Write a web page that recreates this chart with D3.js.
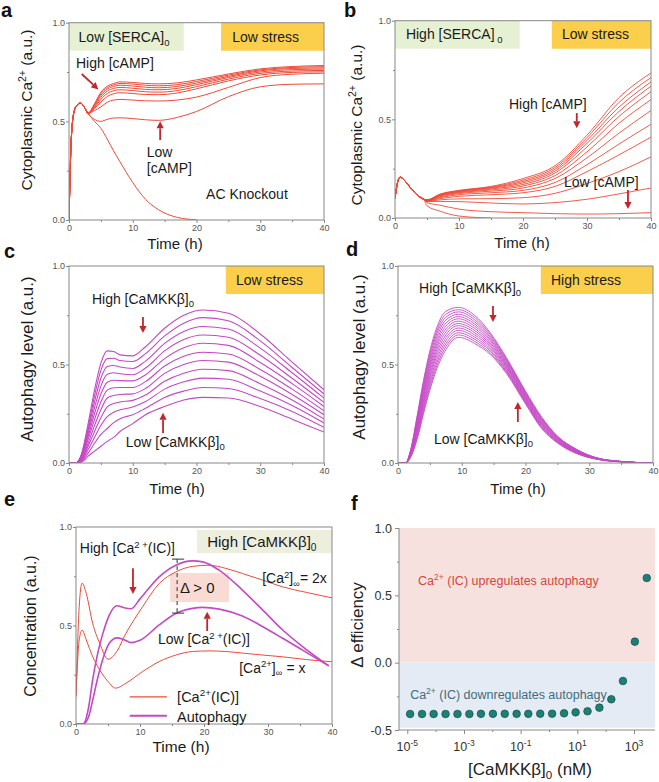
<!DOCTYPE html>
<html>
<head>
<meta charset="utf-8">
<script src="https://cdn.jsdelivr.net/npm/d3@7"></script>
<style>
  body { margin: 0; background: #fff; }
  svg { font-family: "Liberation Sans", Arial, Helvetica, sans-serif; }
</style>
</head>
<body>
<div id="chart"></div>
<script>
// ---------- data ----------

// panel a: low SERCA, cAMP family (high -> low) + AC knockout
const aTime = [0, 0.15, 0.3, 0.5, 0.8, 1.2, 1.8, 2.4, 3, 4, 5, 6, 7, 8, 10, 12, 14, 17, 20, 25, 30, 35, 40];
const aRise = [0, 0.2, 0.37, 0.48, 0.55, 0.58, 0.593, 0.572];
const aCurves = [
  [0.542, 0.59, 0.648, 0.678, 0.692, 0.70, 0.697, 0.692, 0.69, 0.695, 0.71, 0.74, 0.766, 0.778, 0.783],
  [0.542, 0.585, 0.64, 0.671, 0.685, 0.692, 0.689, 0.683, 0.68, 0.686, 0.702, 0.734, 0.761, 0.773, 0.777],
  [0.541, 0.58, 0.632, 0.663, 0.677, 0.683, 0.679, 0.673, 0.67, 0.677, 0.694, 0.728, 0.756, 0.768, 0.771],
  [0.541, 0.575, 0.622, 0.653, 0.667, 0.672, 0.668, 0.662, 0.66, 0.667, 0.686, 0.722, 0.75, 0.762, 0.765],
  [0.54, 0.57, 0.611, 0.641, 0.655, 0.66, 0.656, 0.65, 0.648, 0.656, 0.676, 0.714, 0.743, 0.755, 0.758],
  [0.54, 0.565, 0.598, 0.626, 0.64, 0.645, 0.641, 0.636, 0.635, 0.644, 0.665, 0.705, 0.735, 0.748, 0.751],
  [0.54, 0.555, 0.573, 0.597, 0.608, 0.611, 0.608, 0.604, 0.603, 0.608, 0.623, 0.672, 0.722, 0.739, 0.744],
  [0.538, 0.51, 0.5, 0.51, 0.517, 0.518, 0.514, 0.508, 0.505, 0.52, 0.55, 0.625, 0.675, 0.688, 0.69]
];
const aKnockout = [0.542, 0.5, 0.465, 0.41, 0.35, 0.295, 0.19, 0.105, 0.053, 0.013, 0.001];

// panel b: high SERCA, cAMP family (high -> low)
const bTime = [0, 0.4, 0.8, 1.5, 2.5, 3.5, 4.5, 5, 7, 10, 15, 20, 25, 30, 35, 40];
const bRise = [0.1, 0.18, 0.207, 0.19, 0.15, 0.115, 0.095];
const bCurves = [
  [0.092, 0.121, 0.14, 0.16, 0.2, 0.265, 0.42, 0.61, 0.735],
  [0.092, 0.119, 0.138, 0.157, 0.192, 0.256, 0.407, 0.586, 0.712],
  [0.091, 0.117, 0.136, 0.154, 0.185, 0.247, 0.393, 0.562, 0.69],
  [0.09, 0.115, 0.134, 0.151, 0.178, 0.238, 0.378, 0.54, 0.668],
  [0.09, 0.113, 0.131, 0.147, 0.17, 0.228, 0.36, 0.515, 0.64],
  [0.089, 0.11, 0.128, 0.142, 0.162, 0.215, 0.335, 0.48, 0.60],
  [0.088, 0.107, 0.124, 0.136, 0.152, 0.2, 0.305, 0.43, 0.545],
  [0.087, 0.103, 0.118, 0.128, 0.14, 0.18, 0.27, 0.375, 0.475],
  [0.086, 0.098, 0.11, 0.118, 0.128, 0.16, 0.235, 0.32, 0.41],
  [0.085, 0.092, 0.097, 0.098, 0.103, 0.125, 0.175, 0.235, 0.31],
  [0.083, 0.084, 0.083, 0.076, 0.071, 0.078, 0.095, 0.122, 0.152],
  [0.078, 0.065, 0.045, 0.032, 0.027, 0.022, 0.02, 0.022, 0.027],
  [0.062, 0.035, 0.01, 0.0]
];

// panel c: low stress, CaMKKb family (high -> low)
const cTime = [0, 1, 2, 3, 4, 5, 6, 7, 8, 10, 12, 15, 18, 21, 25, 30, 35, 40];
const cCurves = [
  [0, 0, 0.05, 0.2, 0.37, 0.507, 0.569, 0.566, 0.549, 0.544, 0.59, 0.684, 0.75, 0.777, 0.76, 0.655, 0.512, 0.372],
  [0, 0, 0.045, 0.18, 0.34, 0.47, 0.53, 0.532, 0.52, 0.515, 0.555, 0.645, 0.71, 0.738, 0.722, 0.62, 0.485, 0.35],
  [0, 0, 0.04, 0.165, 0.31, 0.43, 0.49, 0.495, 0.487, 0.48, 0.517, 0.607, 0.668, 0.693, 0.68, 0.583, 0.458, 0.329],
  [0, 0, 0.035, 0.15, 0.28, 0.39, 0.45, 0.458, 0.453, 0.448, 0.482, 0.569, 0.627, 0.65, 0.638, 0.547, 0.43, 0.307],
  [0, 0, 0.03, 0.135, 0.25, 0.35, 0.41, 0.42, 0.418, 0.417, 0.448, 0.53, 0.585, 0.608, 0.597, 0.51, 0.403, 0.287],
  [0, 0, 0.025, 0.12, 0.22, 0.31, 0.37, 0.382, 0.383, 0.383, 0.413, 0.492, 0.542, 0.562, 0.553, 0.475, 0.375, 0.265],
  [0, 0, 0.02, 0.1, 0.19, 0.27, 0.33, 0.343, 0.348, 0.351, 0.378, 0.455, 0.5, 0.52, 0.512, 0.44, 0.348, 0.245],
  [0, 0, 0.017, 0.085, 0.16, 0.23, 0.285, 0.302, 0.31, 0.318, 0.345, 0.415, 0.456, 0.476, 0.469, 0.402, 0.32, 0.223],
  [0, 0, 0.013, 0.068, 0.13, 0.19, 0.235, 0.258, 0.27, 0.284, 0.312, 0.375, 0.412, 0.431, 0.425, 0.365, 0.292, 0.203],
  [0, 0, 0.009, 0.05, 0.1, 0.145, 0.175, 0.205, 0.225, 0.245, 0.278, 0.333, 0.365, 0.383, 0.378, 0.327, 0.262, 0.181],
  [0, 0, 0.005, 0.035, 0.06, 0.085, 0.11, 0.13, 0.16, 0.2, 0.245, 0.287, 0.32, 0.333, 0.33, 0.287, 0.222, 0.157]
];

// panel d: high stress, one row per time, 14 CaMKKb levels (high -> low)
const dTime = [0, 1.2, 2, 3, 4, 5, 6, 7.5, 9.5, 12, 14.5, 17, 20, 22.5, 25, 28, 31, 35, 40];
const dRows = [
  [0, 0, 0, 0, 0, 0, 0, 0, 0, 0, 0, 0, 0, 0],
  [0, 0, 0, 0, 0, 0, 0, 0, 0, 0, 0, 0, 0, 0],
  [0.07, 0.067, 0.064, 0.061, 0.058, 0.055, 0.052, 0.048, 0.045, 0.042, 0.039, 0.036, 0.033, 0.03],
  [0.24, 0.231, 0.222, 0.212, 0.203, 0.194, 0.185, 0.175, 0.166, 0.157, 0.148, 0.138, 0.129, 0.12],
  [0.42, 0.407, 0.394, 0.381, 0.368, 0.355, 0.342, 0.328, 0.315, 0.302, 0.289, 0.276, 0.263, 0.25],
  [0.57, 0.555, 0.539, 0.524, 0.508, 0.493, 0.478, 0.462, 0.447, 0.432, 0.416, 0.401, 0.385, 0.37],
  [0.68, 0.664, 0.648, 0.632, 0.615, 0.599, 0.583, 0.567, 0.551, 0.535, 0.518, 0.502, 0.486, 0.47],
  [0.77, 0.755, 0.74, 0.725, 0.71, 0.695, 0.68, 0.665, 0.65, 0.635, 0.62, 0.605, 0.59, 0.575],
  [0.79, 0.778, 0.767, 0.755, 0.743, 0.732, 0.72, 0.708, 0.697, 0.685, 0.673, 0.661, 0.65, 0.638],
  [0.75, 0.739, 0.728, 0.717, 0.706, 0.695, 0.684, 0.673, 0.662, 0.651, 0.64, 0.629, 0.618, 0.607],
  [0.66, 0.652, 0.643, 0.635, 0.626, 0.618, 0.609, 0.601, 0.592, 0.584, 0.575, 0.567, 0.558, 0.55],
  [0.535, 0.529, 0.523, 0.517, 0.51, 0.504, 0.498, 0.492, 0.486, 0.48, 0.473, 0.467, 0.461, 0.455],
  [0.365, 0.36, 0.355, 0.35, 0.345, 0.34, 0.335, 0.33, 0.325, 0.32, 0.315, 0.31, 0.305, 0.3],
  [0.235, 0.23, 0.226, 0.221, 0.217, 0.212, 0.208, 0.203, 0.199, 0.194, 0.19, 0.185, 0.181, 0.176],
  [0.137, 0.134, 0.132, 0.129, 0.126, 0.124, 0.121, 0.118, 0.115, 0.113, 0.11, 0.107, 0.105, 0.102],
  [0.07, 0.068, 0.067, 0.065, 0.063, 0.062, 0.06, 0.058, 0.056, 0.055, 0.053, 0.051, 0.05, 0.048],
  [0.028, 0.027, 0.027, 0.026, 0.026, 0.025, 0.024, 0.024, 0.023, 0.023, 0.022, 0.021, 0.021, 0.02],
  [0.008, 0.008, 0.008, 0.007, 0.007, 0.007, 0.007, 0.007, 0.007, 0.007, 0.006, 0.006, 0.006, 0.006],
  [0, 0, 0, 0, 0, 0, 0, 0, 0, 0, 0, 0, 0, 0]
];

// panel e: Ca2+(IC) and autophagy for two Ca levels
const eCaTime = [0, 0.5, 0.95, 1.6, 2.6, 3.7, 5, 6.2, 7.8, 10.4, 13, 15.6, 18.2, 20.8, 23.4, 26, 29.2, 32.3, 36, 40];
const eCaHigh = [0.14, 0.595, 0.715, 0.663, 0.511, 0.41, 0.329, 0.36, 0.46, 0.595, 0.713, 0.772, 0.80, 0.806, 0.79, 0.764, 0.73, 0.696, 0.668, 0.64];
const eCaLow = [0.14, 0.427, 0.477, 0.427, 0.342, 0.275, 0.216, 0.182, 0.207, 0.266, 0.317, 0.35, 0.368, 0.371, 0.368, 0.36, 0.35, 0.341, 0.327, 0.316];
const eAutoTime = [0, 1.1, 2, 2.6, 3.4, 4.2, 5.2, 6.4, 7.5, 8.6, 10, 13, 15.6, 18.2, 19.8, 22.4, 26, 29.2, 32.3, 35.4, 39.5];
const eAutoHigh = [0, 0, 0.09, 0.224, 0.36, 0.46, 0.553, 0.6, 0.59, 0.585, 0.635, 0.747, 0.806, 0.828, 0.823, 0.78, 0.68, 0.578, 0.477, 0.393, 0.295];
const eAutoLow = [0, 0, 0.04, 0.12, 0.235, 0.33, 0.41, 0.437, 0.428, 0.413, 0.425, 0.503, 0.561, 0.587, 0.592, 0.583, 0.548, 0.494, 0.435, 0.375, 0.295];

// panel f: delta efficiency vs CaMKKb0 (nM)
const fConc = [1.26e-5, 3.31e-5, 8.5e-5, 2.24e-4, 5.9e-4, 1.55e-3, 3.98e-3, 1.05e-2, 2.75e-2, 7.2e-2, 0.186,
               0.49, 1.29, 3.4, 8.7, 22.9, 60, 158, 407, 1070, 2820];
const fDelta = [-0.381, -0.381, -0.381, -0.381, -0.381, -0.381, -0.38, -0.38, -0.38, -0.38, -0.38,
                -0.379, -0.379, -0.376, -0.369, -0.361, -0.334, -0.272, -0.136, 0.156, 0.629];
const fMajor = [1e-5, 1e-3, 1e-1, 1e1, 1e3];
const fMinor = [1e-4, 1e-2, 1, 1e2];

// ---------- drawing ----------
const RED = "#ee4a36", PURPLE = "#c548c5", ARROW = "#c0262c";
const GREEN_BOX = "#e6f1d3", ORANGE_BOX = "#fbcf4c", BEIGE_BOX = "#eeeedf", PINK_BOX = "#f9dbd3";
const AXIS = "#888", TICKTXT = "#555", INK = "#1a1a1a";

const svg = d3.select("#chart").append("svg")
    .attr("width", 659)
    .attr("height", 782);
const defs = svg.append("defs");
let clipCount = 0;

function styleAxis(sel, size, color) {
    sel.select(".domain").remove();
    sel.selectAll(".tick line").attr("stroke", AXIS);
    sel.selectAll(".tick text").attr("fill", color).attr("font-size", size).attr("font-family", null);
}

function timePanel(b) {
    let p = {};
    p.x = d3.scaleLinear().domain([0, 40]).range([b.left, b.right]);
    p.y = d3.scaleLinear().domain([0, 1]).range([b.bottom, b.top]);
    p.g = svg.append("g");
    let id = "clip" + (clipCount++);
    defs.append("clipPath").attr("id", id).append("rect")
        .attr("x", b.left).attr("y", b.top)
        .attr("width", b.right - b.left).attr("height", b.bottom - b.top);
    p.back = p.g.append("g");
    p.plot = p.g.append("g").attr("clip-path", "url(#" + id + ")");

    let xa = p.g.append("g").attr("transform", "translate(0," + b.bottom + ")")
        .call(d3.axisBottom(p.x).tickValues([0, 10, 20, 30, 40]).tickSize(3).tickPadding(2).tickFormat(d3.format("d")));
    styleAxis(xa, 9, TICKTXT);
    let xm = p.g.append("g").attr("transform", "translate(0," + b.bottom + ")")
        .call(d3.axisBottom(p.x).tickValues([5, 15, 25, 35]).tickSize(2).tickFormat(""));
    styleAxis(xm, 9, TICKTXT);
    let ya = p.g.append("g").attr("transform", "translate(" + b.left + ",0)")
        .call(d3.axisLeft(p.y).tickValues([0, 0.5, 1]).tickSize(3).tickPadding(1).tickFormat(d => d.toFixed(1)));
    styleAxis(ya, 9, TICKTXT);
    let ym = p.g.append("g").attr("transform", "translate(" + b.left + ",0)")
        .call(d3.axisLeft(p.y).tickValues([0.25, 0.75]).tickSize(2).tickFormat(""));
    styleAxis(ym, 9, TICKTXT);

    p.frame = () => p.g.append("rect")
        .attr("x", b.left).attr("y", b.top)
        .attr("width", b.right - b.left).attr("height", b.bottom - b.top)
        .attr("fill", "none").attr("stroke", AXIS).attr("stroke-width", 1);
    return p;
}

function drawLines(p, time, curves, color, width) {
    let line = d3.line()
        .x(d => p.x(d[0]))
        .y(d => p.y(d[1]))
        .curve(d3.curveMonotoneX);
    p.plot.append("g").selectAll("path")
        .data(curves)
        .join("path")
        .attr("d", c => line(c.map((v, i) => [time[i], v])))
        .attr("fill", "none")
        .attr("stroke", color)
        .attr("stroke-width", width);
}

// text with sub/superscripts: parts are strings or {s, sup|sub}
function rich(g, px, py, parts, size, opts) {
    opts = opts || {};
    let t = g.append("text")
        .attr("x", px).attr("y", py)
        .attr("font-size", size)
        .attr("fill", opts.fill || INK);
    if (opts.anchor) t.attr("text-anchor", opts.anchor);
    if (opts.rotate) t.attr("transform", "rotate(-90," + px + "," + py + ")");
    let shift = 0;
    parts.forEach(p => {
        let seg = typeof p === "string" ? {s: p} : p;
        let target = seg.sup ? -size * 0.38 : seg.sub ? size * 0.24 : 0;
        let ts = t.append("tspan").text(seg.s).attr("dy", target - shift);
        if (seg.sup || seg.sub) ts.attr("font-size", size * 0.68);
        shift = target;
    });
    return t;
}

function label(p, t, v, parts, size, opts) {
    return rich(p.g, p.x(t), p.y(v), parts, size, opts);
}

function box(p, t0, t1, v0, v1, color) {
    p.back.append("rect")
        .attr("x", p.x(t0)).attr("y", p.y(v1))
        .attr("width", p.x(t1) - p.x(t0)).attr("height", p.y(v0) - p.y(v1))
        .attr("fill", color);
}

function arrow(p, t0, v0, t1, v1) {
    let x1 = p.x(t0), y1 = p.y(v0), x2 = p.x(t1), y2 = p.y(v1);
    let ang = Math.atan2(y2 - y1, x2 - x1), L = 7, w = 3.6;
    let bx = x2 - L * Math.cos(ang), by = y2 - L * Math.sin(ang);
    p.g.append("line")
        .attr("x1", x1).attr("y1", y1).attr("x2", bx).attr("y2", by)
        .attr("stroke", ARROW).attr("stroke-width", 1.8);
    p.g.append("path")
        .attr("d", "M" + x2 + "," + y2 +
            "L" + (bx + w * Math.sin(ang)) + "," + (by - w * Math.cos(ang)) +
            "L" + (bx - w * Math.sin(ang)) + "," + (by + w * Math.cos(ang)) + "Z")
        .attr("fill", ARROW);
}

function panelLetter(x, y, s) {
    svg.append("text").attr("x", x).attr("y", y)
        .attr("font-size", 20).attr("font-weight", "bold").attr("fill", "#111")
        .text(s);
}

const sub0 = {s: "0", sub: true};

// ----- panel a -----
let pa = timePanel({left: 69, right: 324, top: 22.7, bottom: 220});
box(pa, 0, 18, 0.858, 1, GREEN_BOX);
box(pa, 23.85, 40, 0.858, 1, ORANGE_BOX);
drawLines(pa, aTime, [aRise.concat(aKnockout)], RED, 1);
drawLines(pa, aTime, aCurves.map(c => aRise.concat(c)), RED, 1);
pa.frame();
label(pa, 1.5, 0.9, ["Low [SERCA]", sub0], 14);
label(pa, 25.6, 0.9, ["Low stress"], 14);
label(pa, 1.1, 0.77, ["High [cAMP]"], 14);
arrow(pa, 2.0, 0.74, 4.6, 0.662);
label(pa, 12.2, 0.32, ["Low"], 14);
label(pa, 12.2, 0.238, ["[cAMP]"], 14);
arrow(pa, 14.3, 0.405, 14.3, 0.5);
label(pa, 21.5, 0.106, ["AC Knockout"], 14);
rich(svg, 32, 110, ["Cytoplasmic Ca", {s: "2+", sup: true}, " (a.u.)"], 15.5, {anchor: "middle", rotate: true});
rich(svg, 175, 249, ["Time (h)"], 15, {anchor: "middle"});

// ----- panel b -----
let pb = timePanel({left: 395, right: 651, top: 20.7, bottom: 218});
box(pb, 0, 19.5, 0.858, 1, GREEN_BOX);
box(pb, 24.5, 40, 0.858, 1, ORANGE_BOX);
drawLines(pb, bTime, bCurves.map(c => bRise.concat(c)), RED, 0.9);
pb.frame();
label(pb, 1.7, 0.905, ["High [SERCA]", {s: "\u00a00", sub: true}], 14);
label(pb, 26.1, 0.905, ["Low stress"], 14);
label(pb, 17.8, 0.552, ["High [cAMP]"], 14);
arrow(pb, 28.4, 0.532, 28.4, 0.455);
label(pb, 26.4, 0.157, ["Low [cAMP]"], 14);
arrow(pb, 36.4, 0.142, 36.4, 0.045);
rich(svg, 362, 125, ["Cytoplasmic Ca", {s: "2+", sup: true}, " (a.u.)"], 15.5, {anchor: "middle", rotate: true});
rich(svg, 522, 248, ["Time (h)"], 15, {anchor: "middle"});

// ----- panel c -----
let pc = timePanel({left: 69, right: 324, top: 266, bottom: 463});
box(pc, 24.6, 40, 0.858, 1, ORANGE_BOX);
drawLines(pc, cTime, cCurves, PURPLE, 1.1);
pc.frame();
label(pc, 26.2, 0.904, ["Low stress"], 14);
label(pc, 3.6, 0.807, ["High [CaMKK\u03b2]", sub0], 14);
arrow(pc, 11.6, 0.741, 11.6, 0.66);
label(pc, 8.9, 0.081, ["Low [CaMKK\u03b2]", sub0], 14);
arrow(pc, 14.75, 0.152, 14.75, 0.255);
rich(svg, 33, 359, ["Autophagy level (a.u.)"], 17, {anchor: "middle", rotate: true});
rich(svg, 177, 494, ["Time (h)"], 15, {anchor: "middle"});

// ----- panel d -----
let pd = timePanel({left: 398, right: 653, top: 266, bottom: 463});
box(pd, 22.4, 40, 0.858, 1, ORANGE_BOX);
let dCurves = d3.range(dRows[0].length).map(k => dRows.map(r => r[k]));
drawLines(pd, dTime, dCurves, PURPLE, 0.9);
pd.frame();
label(pd, 24, 0.904, ["High stress"], 14);
label(pd, 3.3, 0.863, ["High [CaMKK\u03b2]", sub0], 14);
arrow(pd, 14.9, 0.797, 14.9, 0.716);
label(pd, 5.65, 0.096, ["Low [CaMKK\u03b2]", sub0], 14);
arrow(pd, 18.8, 0.208, 18.8, 0.31);
rich(svg, 365, 357, ["Autophagy level (a.u.)"], 17, {anchor: "middle", rotate: true});
rich(svg, 518, 494, ["Time (h)"], 15, {anchor: "middle"});

// ----- panel e -----
let pe = timePanel({left: 76, right: 332, top: 527, bottom: 724});
box(pe, 18.9, 40, 0.867, 0.985, BEIGE_BOX);
box(pe, 14.7, 23.9, 0.619, 0.766, PINK_BOX);
drawLines(pe, eCaTime, [eCaHigh, eCaLow], RED, 1);
drawLines(pe, eAutoTime, [eAutoHigh, eAutoLow], PURPLE, 1.6);
pe.frame();
label(pe, 20.5, 0.897, ["High [CaMKK\u03b2]", sub0], 15);
label(pe, 0.6, 0.867, ["High [Ca", {s: "2 +", sup: true}, "(IC)]"], 14);
arrow(pe, 8.9, 0.791, 8.9, 0.66);
label(pe, 16.25, 0.664, ["\u0394 > 0"], 15);
pe.g.append("line")
    .attr("x1", pe.x(15.8)).attr("x2", pe.x(15.8))
    .attr("y1", pe.y(0.837)).attr("y2", pe.y(0.563))
    .attr("stroke", "#333").attr("stroke-width", 1).attr("stroke-dasharray", "4,3");
[0.837, 0.563].forEach(v => {
    pe.g.append("line")
        .attr("x1", pe.x(15.0)).attr("x2", pe.x(16.9))
        .attr("y1", pe.y(v)).attr("y2", pe.y(v))
        .attr("stroke", "#333").attr("stroke-width", 1);
});
label(pe, 29.1, 0.715, ["[Ca", {s: "2", sup: true}, "]", {s: "\u221e", sub: true}, "= 2x"], 14);
label(pe, 12.8, 0.406, ["Low [Ca", {s: "2 +", sup: true}, "(IC)]"], 14);
arrow(pe, 20.5, 0.472, 20.5, 0.57);
label(pe, 25.5, 0.26, ["[Ca", {s: "2+", sup: true}, "]", {s: "\u221e", sub: true}, " = x"], 14);
// legend
pe.g.append("line")
    .attr("x1", pe.x(8.4)).attr("x2", pe.x(14.2))
    .attr("y1", pe.y(0.138)).attr("y2", pe.y(0.138))
    .attr("stroke", RED).attr("stroke-width", 1.2);
label(pe, 15.8, 0.113, ["[Ca", {s: "2+", sup: true}, "(IC)]"], 14.5);
pe.g.append("line")
    .attr("x1", pe.x(8.4)).attr("x2", pe.x(14.2))
    .attr("y1", pe.y(0.042)).attr("y2", pe.y(0.042))
    .attr("stroke", PURPLE).attr("stroke-width", 2.2);
label(pe, 15.8, 0.012, ["Autophagy"], 14.5);
rich(svg, 36, 626, ["Concentration (a.u.)"], 16, {anchor: "middle", rotate: true});
rich(svg, 181, 752, ["Time (h)"], 15.5, {anchor: "middle"});

// ----- panel f -----
let fx = d3.scaleLog().domain([5.1e-6, 5.5e3]).range([399, 655]);
let fy = d3.scaleLinear().domain([-0.5, 1]).range([730, 528]);
let fg = svg.append("g");
fg.append("rect")
    .attr("x", fx.range()[0]).attr("y", fy(1))
    .attr("width", fx.range()[1] - fx.range()[0]).attr("height", fy(0) - fy(1))
    .attr("fill", "#f7e1df");
fg.append("rect")
    .attr("x", fx.range()[0]).attr("y", fy(0))
    .attr("width", fx.range()[1] - fx.range()[0]).attr("height", fy(-0.483) - fy(0))
    .attr("fill", "#e5ebf5");

let fya = fg.append("g").attr("transform", "translate(399,0)")
    .call(d3.axisLeft(fy).tickValues([-0.5, 0, 0.5, 1]).tickSize(4).tickPadding(3).tickFormat(d => d.toFixed(1)));
styleAxis(fya, 12.5, "#333");
let fym = fg.append("g").attr("transform", "translate(399,0)")
    .call(d3.axisLeft(fy).tickValues([-0.25, 0.25, 0.75]).tickSize(2).tickFormat(""));
styleAxis(fym, 12.5, "#333");
let fxa = fg.append("g").attr("transform", "translate(0,730)")
    .call(d3.axisBottom(fx).tickValues(fMajor).tickSize(4).tickFormat(""));
styleAxis(fxa, 12.5, "#333");
let fxm = fg.append("g").attr("transform", "translate(0,730)")
    .call(d3.axisBottom(fx).tickValues(fMinor).tickSize(2).tickFormat(""));
styleAxis(fxm, 12.5, "#333");
fg.append("line").attr("x1", 399).attr("x2", 399).attr("y1", fy(1)).attr("y2", fy(-0.5)).attr("stroke", AXIS);
fg.append("line").attr("x1", 399).attr("x2", 655).attr("y1", fy(-0.5)).attr("y2", fy(-0.5)).attr("stroke", AXIS);
fMajor.forEach(d => {
    rich(fg, fx(d), 751, ["10", {s: String(Math.round(Math.log10(d))), sup: true}], 12.5, {anchor: "middle", fill: "#333"});
});

fg.append("g").selectAll("circle")
    .data(fConc.map((c, i) => [c, fDelta[i]]))
    .join("circle")
    .attr("cx", d => fx(d[0]))
    .attr("cy", d => fy(d[1]))
    .attr("r", 3.8)
    .attr("fill", "#1f7f74")
    .attr("stroke", "#0e4e46")
    .attr("stroke-width", 0.7);

rich(fg, fx(2.4e-5), fy(0.58), ["Ca", {s: "2+", sup: true}, " (IC) upregulates autophagy"], 12.5, {fill: "#d7463b"});
rich(fg, fx(1.26e-5), fy(-0.268), ["Ca", {s: "2+", sup: true}, " (IC) downregulates autophagy"], 12.5, {fill: "#3f6d7c"});
rich(svg, 363, 625, ["\u0394 efficiency"], 17, {anchor: "middle", rotate: true, fill: "#222"});
rich(svg, 530, 775, ["[CaMKK\u03b2]", sub0, " (nM)"], 17, {anchor: "middle", fill: "#222"});

// panel letters
panelLetter(1, 17, "a");
panelLetter(344, 17, "b");
panelLetter(4, 258, "c");
panelLetter(346, 256, "d");
panelLetter(4, 506, "e");
panelLetter(351, 510, "f");
</script>
</body>
</html>
